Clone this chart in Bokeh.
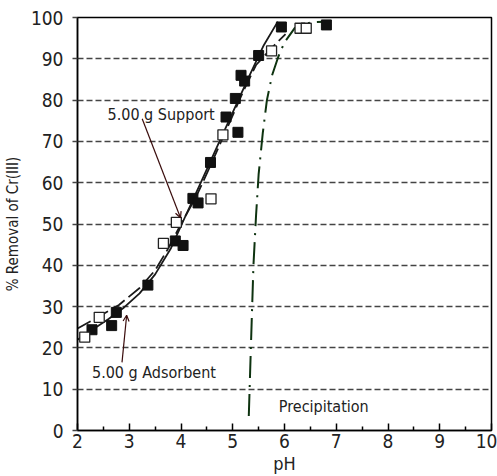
from bokeh.plotting import figure
from bokeh.models import FixedTicker, Arrow, OpenHead, Label, Range1d
from bokeh.embed import file_html
from bokeh.resources import INLINE

# ---- data ----
ads_ph = [2.28, 2.66, 2.75, 3.36, 3.89, 4.04, 4.23, 4.33, 4.57, 4.87, 5.05, 5.10, 5.16, 5.23, 5.50, 5.94, 6.81]
ads_rem = [24.4, 25.4, 28.6, 35.2, 45.9, 44.8, 56.2, 55.1, 64.9, 75.9, 80.4, 72.2, 86.0, 84.6, 90.8, 97.7, 98.2]

sup_ph = [2.14, 2.42, 3.66, 3.91, 4.58, 4.81, 5.75, 6.30, 6.42]
sup_rem = [22.6, 27.4, 45.3, 50.4, 56.1, 71.6, 91.9, 97.4, 97.4]

ads_fit_ph = [2.0, 2.3, 2.6, 2.9, 3.2, 3.5, 3.8, 4.1, 4.4, 4.7, 5.0, 5.3, 5.6, 5.87]
ads_fit_rem = [22.0, 24.5, 27.0, 29.8, 33.2, 37.8, 44.0, 52.3, 60.5, 68.8, 77.0, 85.3, 93.3, 99.0]

sup_fit_ph = [2.0, 2.4, 2.8, 3.2, 3.5, 3.75, 4.0, 4.3, 4.6, 4.9, 5.2, 5.45, 5.75, 6.02]
sup_fit_rem = [24.7, 27.5, 30.4, 34.5, 38.8, 44.0, 50.0, 56.8, 65.0, 73.5, 82.0, 88.5, 92.6, 96.0]

prec_ph = [5.31, 5.35, 5.40, 5.45, 5.50, 5.58, 5.66, 5.76, 5.88, 6.0, 6.2, 6.5, 6.8]
prec_rem = [3.5, 20.0, 40.0, 52.0, 62.0, 72.0, 80.0, 86.0, 90.5, 94.0, 97.5, 98.8, 99.0]

x_ticks = [2, 3, 4, 5, 6, 7, 8, 9, 10]
x_minor = [2.5, 3.5, 4.5, 5.5, 6.5, 7.5, 8.5, 9.5]
y_ticks = [0, 10, 20, 30, 40, 50, 60, 70, 80, 90, 100]

support_label = "5.00  g  Support"
support_text_pos = (2.58, 76.4)
support_arrow = (3.25, 75.5, 3.99, 51.5)
ads_label = "5.00  g  Adsorbent"
ads_text_pos = (2.28, 14.0)
ads_arrow = (2.86, 16.5, 2.95, 27.9)
prec_label = "Precipitation"
prec_text_pos = (5.89, 5.8)

FONT = "DejaVu Sans Condensed"

p = figure(width=497, height=476, output_backend="svg", toolbar_location=None,
           x_range=Range1d(2, 10), y_range=Range1d(0, 100),
           min_border_left=77, min_border_right=6, min_border_top=17, min_border_bottom=44)
p.outline_line_color = "black"
p.outline_line_width = 1.5

# axes
p.xaxis.ticker = FixedTicker(ticks=x_ticks, minor_ticks=x_minor)
p.yaxis.ticker = FixedTicker(ticks=y_ticks)
for ax in (p.xaxis, p.yaxis):
    ax.axis_line_color = "black"
    ax.axis_line_width = 1.5
    ax.major_label_text_font = FONT
    ax.major_label_text_font_size = "19px"
    ax.major_label_text_color = "#222"
    ax.axis_label_text_font = FONT
    ax.axis_label_text_font_style = "normal"
    ax.axis_label_text_color = "#222"
p.xaxis.major_tick_in = 7
p.xaxis.major_tick_out = 0
p.xaxis.minor_tick_in = 4
p.xaxis.minor_tick_out = 0
p.xaxis.major_tick_line_width = 1.5
p.xaxis.minor_tick_line_width = 1.5
p.xaxis.major_label_standoff = 3
p.xaxis.axis_label = "pH"
p.xaxis.axis_label_text_font_size = "18px"
p.xaxis.axis_label_standoff = 2
p.yaxis.major_tick_in = 0
p.yaxis.major_tick_out = 5
p.yaxis.major_tick_line_color = "#444"
p.yaxis.major_tick_line_width = 1.5
p.yaxis.minor_tick_in = 0
p.yaxis.minor_tick_out = 0
p.yaxis.major_label_standoff = 9
p.yaxis.axis_label = "% Removal of Cr(III)"
p.yaxis.axis_label_text_font_size = "15px"
p.yaxis.axis_label_standoff = 6

p.xgrid.grid_line_color = None
p.ygrid.ticker = FixedTicker(ticks=y_ticks[1:-1])
p.ygrid.grid_line_color = "#444"
p.ygrid.grid_line_width = 1.5
p.ygrid.grid_line_dash = "6 3"

# curves
p.line(prec_ph, prec_rem, line_color="#0e3310", line_width=2, line_dash="22 7 2 7")
p.line(sup_fit_ph, sup_fit_rem, line_color="#1a1a1a", line_width=1.8, line_dash="15 5")
p.line(ads_fit_ph, ads_fit_rem, line_color="#1a1a1a", line_width=1.8)

# points
p.scatter(ads_ph, ads_rem, marker="square", size=10, fill_color="#111", line_color="#111")
p.scatter(sup_ph, sup_rem, marker="square", size=10, fill_color="white", line_color="#222", line_width=1.3)

# annotations
p.add_layout(Label(x=support_text_pos[0], y=support_text_pos[1], text=support_label,
                   text_font=FONT, text_font_size="16px", text_color="#222",
                   text_baseline="middle"))
p.add_layout(Label(x=ads_text_pos[0], y=ads_text_pos[1], text=ads_label,
                   text_font=FONT, text_font_size="16px", text_color="#222",
                   text_baseline="middle"))
p.add_layout(Label(x=prec_text_pos[0], y=prec_text_pos[1], text=prec_label,
                   text_font=FONT, text_font_size="16px", text_color="#222",
                   text_baseline="middle"))
p.add_layout(Arrow(x_start=support_arrow[0], y_start=support_arrow[1],
                   x_end=support_arrow[2], y_end=support_arrow[3],
                   line_color="#3a0c0c", line_width=1.2,
                   end=OpenHead(size=6, line_color="#3a0c0c", line_width=1.2)))
p.add_layout(Arrow(x_start=ads_arrow[0], y_start=ads_arrow[1],
                   x_end=ads_arrow[2], y_end=ads_arrow[3],
                   line_color="#3a0c0c", line_width=1.2,
                   end=OpenHead(size=6, line_color="#3a0c0c", line_width=1.2)))

open("out.html", "w").write(file_html(p, INLINE))
